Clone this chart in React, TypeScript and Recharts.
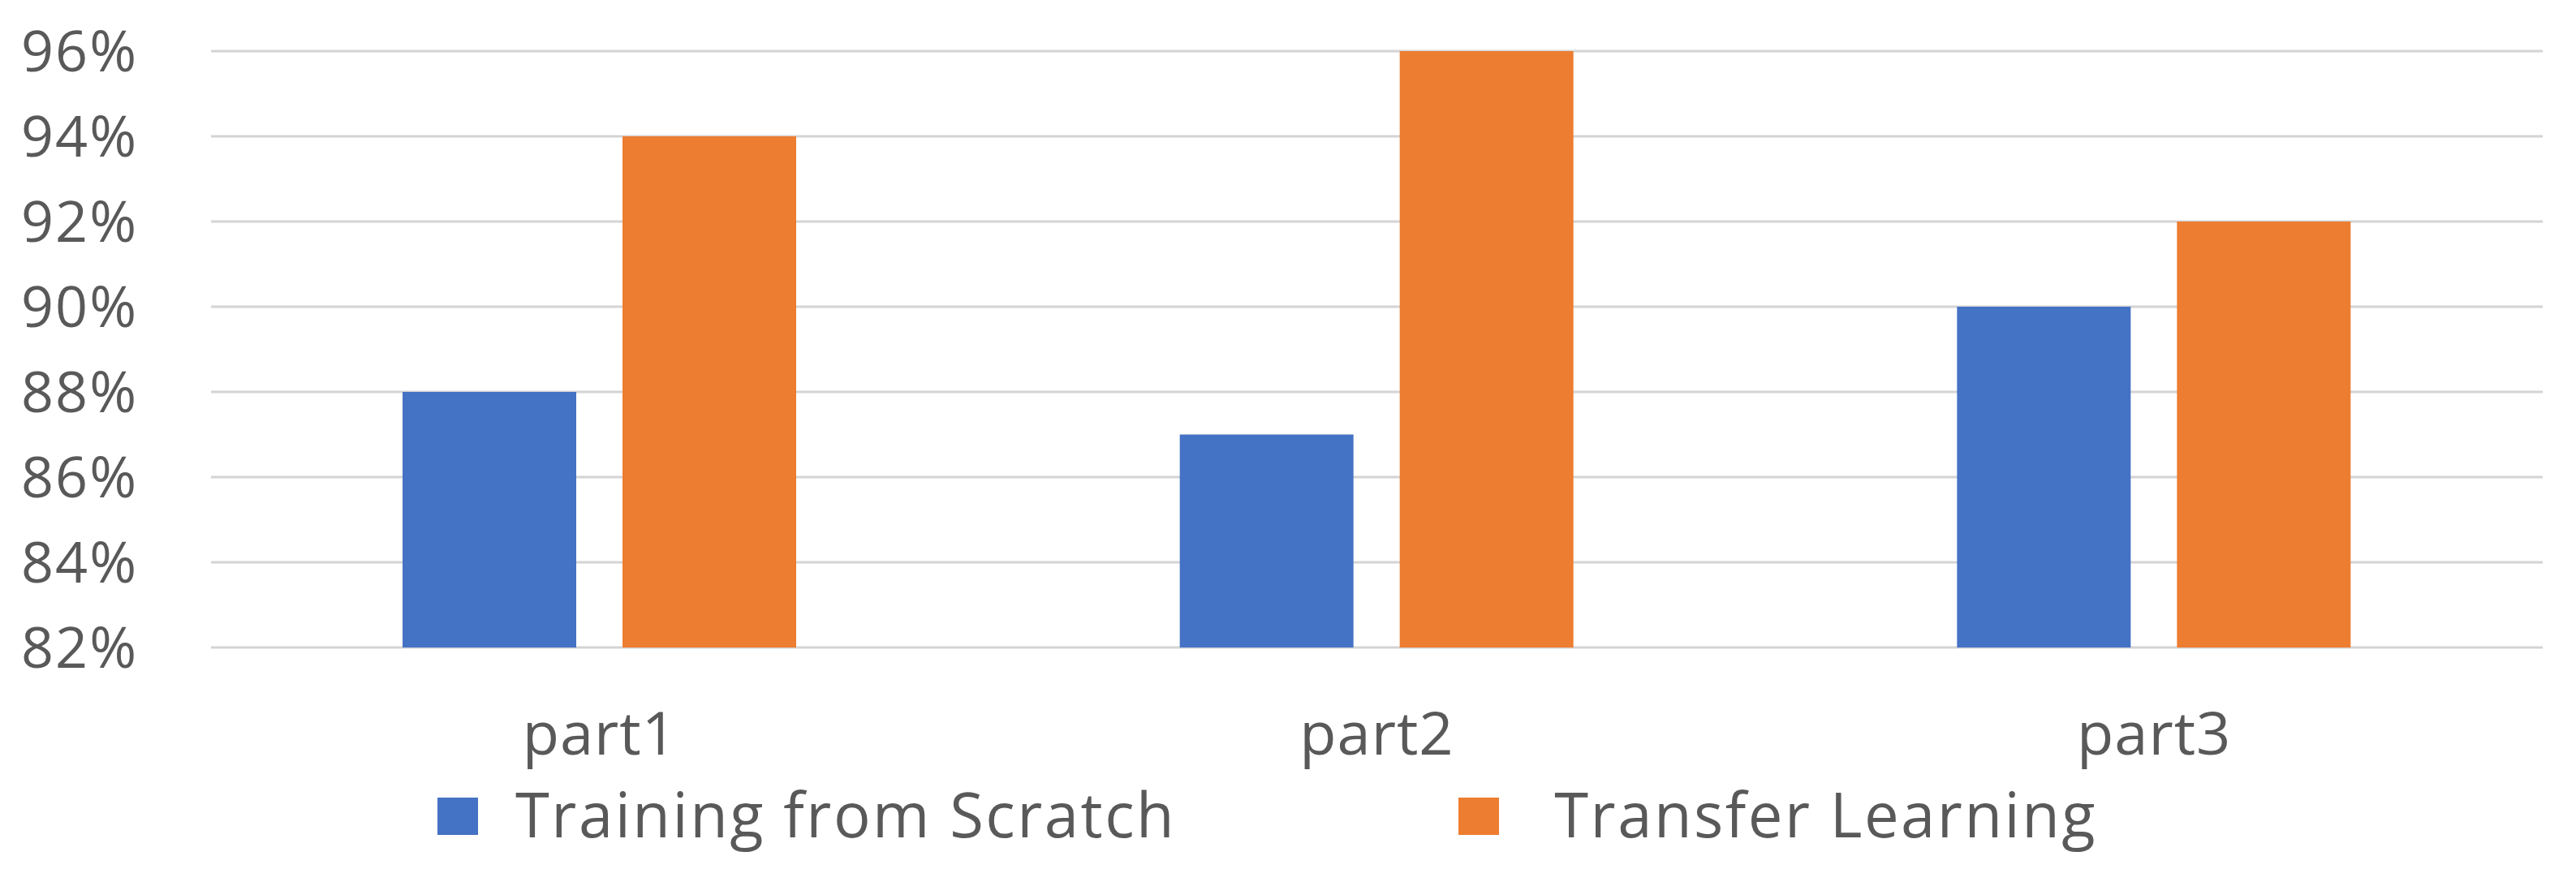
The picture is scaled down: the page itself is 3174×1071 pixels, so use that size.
import React from 'react';
import { BarChart, Bar, XAxis, YAxis, CartesianGrid, Legend } from 'recharts';

// values (accuracy in %)
const categories = ['part1', 'part2', 'part3'];
const scratchValues = [88, 87, 90];
const transferValues = [94, 96, 92];
const yTicks = [82, 84, 86, 88, 90, 92, 94, 96];

const seriesKeys = ['scratch', 'transfer'];
const seriesNames = ['Training from Scratch', ' Transfer Learning'];
const BLUE = '#4472C4';
const ORANGE = '#ED7D31';
const TEXT = '#595959';
const FONT = '"Open Sans", "Noto Sans", sans-serif';

const data = categories.map((name, i) => ({
  name,
  scratch: scratchValues[i],
  transfer: transferValues[i],
}));

function XTick({ x, y, payload }: any) {
  return (
    <text x={x} y={y + 130} textAnchor="middle" fill={TEXT} fontSize={74} fontFamily={FONT} letterSpacing={1}>
      {payload.value}
    </text>
  );
}

// legend drawn as one svg strip across the bottom
function LegendStrip({ payload }: any) {
  const xs: Record<string, number> = { scratch: 539, transfer: 1797 };
  const textGap = 46;
  return (
    <svg width={3174} height={110} style={{ display: 'block', overflow: 'visible' }}>
      {(payload || []).map((item: any) => {
        const x0 = xs[item.dataKey] ?? 0;
        return (
          <g key={item.dataKey}>
            <rect x={x0} y={22} width={50} height={46} fill={item.color} />
            <text
              x={x0 + 50 + textGap}
              y={71}
              fill={TEXT}
              fontSize={76}
              fontFamily={FONT}
              letterSpacing={2.5}
              style={{ whiteSpace: 'pre' }}
            >
              {item.value}
            </text>
          </g>
        );
      })}
    </svg>
  );
}

export default function App() {
  return (
    <div style={{ width: 3174, height: 1071, background: '#fff' }}>
      <style>{`body{margin:0}`}</style>
      <BarChart
        width={3174}
        height={1071}
        data={data}
        margin={{ top: 63, right: 41, left: 0, bottom: 0 }}
        barSize={214}
        barGap={57}
      >
        <CartesianGrid vertical={false} stroke="#D4D4D4" strokeWidth={3} />
        <XAxis
          dataKey="name"
          axisLine={false}
          tickLine={false}
          tickSize={0}
          height={163}
          tick={<XTick />}
          interval={0}
        />
        <YAxis
          domain={[82, 96]}
          ticks={yTicks}
          interval={0}
          width={260}
          axisLine={false}
          tickLine={false}
          tickSize={0}
          tickMargin={90}
          tickFormatter={(v: number) => `${v}%`}
          tick={{ fill: TEXT, fontSize: 70, fontFamily: FONT, letterSpacing: 2 }}
        />
        <Legend
          verticalAlign="bottom"
          height={110}
          wrapperStyle={{ left: 0, width: 3174, bottom: 0 }}
          content={<LegendStrip />}
        />
        <Bar dataKey={seriesKeys[0]} name={seriesNames[0]} fill={BLUE} isAnimationActive={false} />
        <Bar dataKey={seriesKeys[1]} name={seriesNames[1]} fill={ORANGE} isAnimationActive={false} />
      </BarChart>
    </div>
  );
}
